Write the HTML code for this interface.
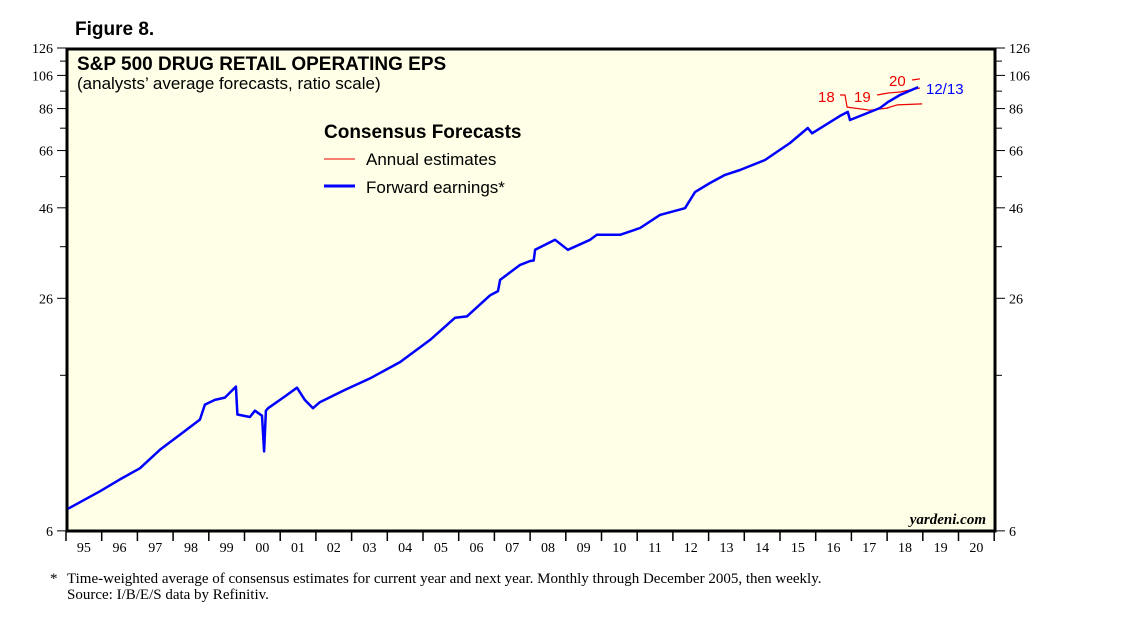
<!DOCTYPE html>
<html><head><meta charset="utf-8"><style>
body{margin:0;background:#fff;}
svg{display:block;font-family:"Liberation Sans",sans-serif;}
.serif{font-family:"Liberation Serif",serif;}
</style></head><body>
<svg id="chart" width="1138" height="621" viewBox="0 0 1138 621">
<text x="75" y="35" font-size="19" font-weight="bold">Figure 8.</text>
<rect x="67" y="49" width="928" height="482" fill="#fffee6" stroke="#000" stroke-width="3"/>
<text x="77" y="70" font-size="19" font-weight="bold">S&amp;P 500 DRUG RETAIL OPERATING EPS</text>
<text x="77" y="89" font-size="17">(analysts’ average forecasts, ratio scale)</text>
<text x="324" y="138" font-size="19" font-weight="bold">Consensus Forecasts</text>
<line x1="324" y1="159" x2="355" y2="159" stroke="#e00" stroke-width="1"/>
<text x="366" y="165" font-size="17">Annual estimates</text>
<line x1="324" y1="186" x2="355" y2="186" stroke="#00f" stroke-width="3"/>
<text x="366" y="193" font-size="17">Forward earnings*</text>
<text x="986" y="524" font-size="15" font-style="italic" font-weight="bold" text-anchor="end" class="serif">yardeni.com</text>
<g id="axes"></g>
<g id="series"></g>
<text x="818" y="102" font-size="15" fill="#e00">18</text>
<text x="854" y="102" font-size="15" fill="#e00">19</text>
<text x="889" y="86" font-size="15" fill="#e00">20</text>
<text x="926" y="94" font-size="15" fill="#00f">12/13</text>
<text x="50" y="583" font-size="15" class="serif">*</text>
<text x="67" y="583" font-size="15" class="serif">Time-weighted average of consensus estimates for current year and next year. Monthly through December 2005, then weekly.</text>
<text x="67" y="599" font-size="15" class="serif">Source: I/B/E/S data by Refinitiv.</text>
</svg>
<script>
const yTicks=[6,26,46,66,86,106,126];
const yMinor=[16,36,56,76,96,116];
const yearLabels=["95","96","97","98","99","00","01","02","03","04","05","06","07","08","09","10","11","12","13","14","15","16","17","18","19","20"];
const fwdYears=[1995.06,1995.95,1996.51,1997.07,1997.63,1998.19,1998.75,1998.89,1999.17,1999.45,1999.76,1999.8,2000.15,2000.29,2000.49,2000.55,2000.6,2000.66,2001.13,2001.47,2001.69,2001.92,2002.11,2002.82,2003.52,2004.36,2005.2,2005.9,2006.23,2006.88,2007.1,2007.16,2007.72,2008.0,2008.1,2008.14,2008.7,2009.06,2009.68,2009.87,2010.52,2011.08,2011.64,2012.34,2012.62,2013.04,2013.46,2013.88,2014.58,2015.28,2015.78,2015.9,2016.68,2016.9,2016.96,2017.8,2018.03,2018.36,2018.87];
const fwdValues=[6.9,7.7,8.3,8.9,10.0,11.0,12.1,13.3,13.7,13.9,14.9,12.5,12.3,12.8,12.4,9.9,12.8,13.0,14.0,14.8,13.7,13.0,13.5,14.6,15.7,17.4,20.0,23.0,23.2,26.5,27.2,29.2,32.1,32.9,33.0,35.3,37.6,35.3,37.6,38.8,38.8,40.5,44.0,45.9,50.8,53.8,56.6,58.4,62.2,69.2,76.1,73.6,82.1,84.2,80.0,86.3,89.7,93.7,98.5];
const est18Years=[2016.68,2016.82,2016.88,2017.52,2018.03];
const est18Values=[93.7,93.7,86.8,85.1,86.3];
const est19Years=[2017.72,2018.03,2018.36,2018.92];
const est19Values=[93.7,94.9,95.5,97.9];
const est19bYears=[2018.0,2018.28,2018.98];
const est19bValues=[86.3,88.0,88.6];
const est20Years=[2018.7,2018.92];
const est20Values=[103,103.7];

const X0=66,YW=35.7,YT=48,K=158.6,VMAX=126;
function xs(yr){return X0+(yr-1995)*YW;}
function ys(v){return YT+K*Math.log(VMAX/v);}
const NS="http://www.w3.org/2000/svg";
function mk(tag,attrs,parent){const e=document.createElementNS(NS,tag);for(const k in attrs)e.setAttribute(k,attrs[k]);parent.appendChild(e);return e;}
const axes=document.getElementById('axes');
yTicks.forEach(v=>{
  const y=ys(v);
  const l=mk('line',{x1:57,x2:66,y1:y,y2:y,stroke:'#000'},axes);
  
  
  const r=mk('line',{x1:996,x2:1005,y1:y,y2:y,stroke:'#000'},axes);
  
  
  const t=mk('text',{x:53,y:y+5,'font-size':14,'text-anchor':'end',class:'serif'},axes);
  t.textContent=v;
  
  
  const t2=mk('text',{x:1009,y:y+5,'font-size':14,class:'serif'},axes);
  t2.textContent=v;
  
  
});
yMinor.forEach(v=>{
  const y=ys(v);
  const l=mk('line',{x1:60,x2:66,y1:y,y2:y,stroke:'#000'},axes);
  
  
  const r=mk('line',{x1:996,x2:1002,y1:y,y2:y,stroke:'#000'},axes);
  
  
});
yearLabels.forEach((lab,i)=>{
  const x=xs(1995+i);
  const l=mk('line',{x1:x,x2:x,y1:531,y2:541,stroke:'#000','stroke-width':1.5},axes);
  
  
  const t=mk('text',{x:x+YW/2,y:552,'font-size':14,'text-anchor':'middle',class:'serif'},axes);
  t.textContent=lab;
  
  
});
const lastTick=mk('line',{x1:xs(2021),x2:xs(2021),y1:531,y2:541,stroke:'#000','stroke-width':1.5},axes);


const ser=document.getElementById('series');
function line(yrs,vals,color,w,name){
  const p=mk('polyline',{points:yrs.map((y,i)=>xs(y).toFixed(1)+','+ys(vals[i]).toFixed(1)).join(' '),fill:'none',stroke:color,'stroke-width':w,'stroke-linejoin':'round'},ser);
  
  
}
line(est18Years,est18Values,'#e00',1.2,'annual-estimate-2018');
line(est19Years,est19Values,'#e00',1.2,'annual-estimate-2019');
line(est19bYears,est19bValues,'#e00',1.2,'annual-estimate-2019-lower');
line(est20Years,est20Values,'#e00',1.2,'annual-estimate-2020');
line(fwdYears,fwdValues,'#00f',2.5,'forward-earnings-line');
</script>
</body></html>
